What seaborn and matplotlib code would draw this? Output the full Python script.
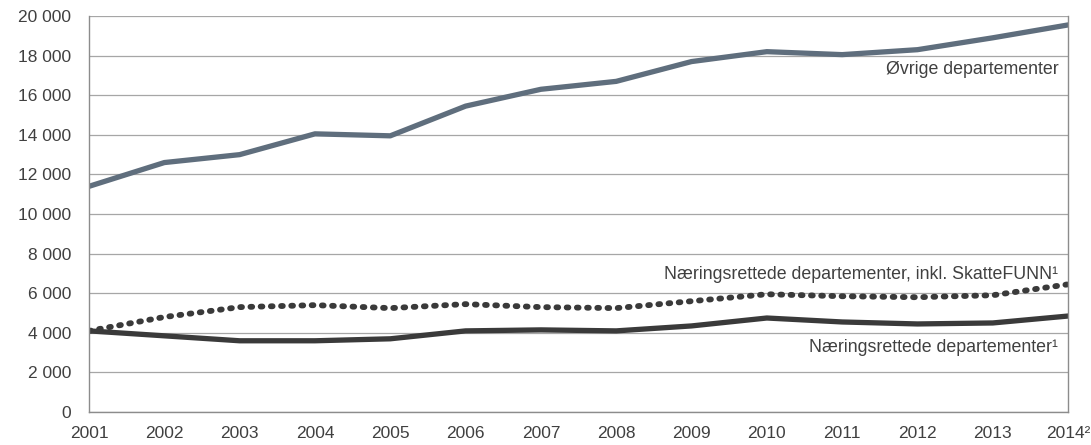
import matplotlib
matplotlib.use("Agg")
import matplotlib.pyplot as plt
import seaborn as sns
import pandas as pd

years = list(range(2001, 2015))
ovrige = [11400, 12600, 13000, 14050, 13950, 15450, 16300, 16700, 17700, 18200, 18050, 18300, 18900, 19550]
naering_skf = [4100, 4800, 5300, 5400, 5250, 5450, 5300, 5250, 5600, 5950, 5850, 5800, 5900, 6450]
naering = [4100, 3850, 3600, 3600, 3700, 4100, 4150, 4100, 4350, 4750, 4550, 4450, 4500, 4850]
x_labels = [str(y) for y in years[:-1]] + ["2014²"]

df = pd.DataFrame({"år": years, "ovrige": ovrige, "skf": naering_skf, "naering": naering})

sns.set_style("white")
plt.rcParams["font.family"] = ["Liberation Sans", "DejaVu Sans"]

fig = plt.figure(figsize=(10.91, 4.45), dpi=100)
ax = fig.add_axes([0.0816, 0.074, 0.8974, 0.89])

sns.lineplot(data=df, x="år", y="ovrige", ax=ax, color="#5f6e7d", lw=3.8, solid_capstyle="round")
sns.lineplot(data=df, x="år", y="naering", ax=ax, color="#3a3a3a", lw=3.8, solid_capstyle="round")
sns.lineplot(data=df, x="år", y="skf", ax=ax, color="#3a3a3a", lw=4.2,
             linestyle=(0, (0.3, 1.45)), dash_capstyle="round")

ax.set_xlim(2001, 2014)
ax.set_ylim(0, 20000)
ax.set_yticks(range(0, 20001, 2000))
ax.set_yticklabels([f"{v:,}".replace(",", " ") for v in range(0, 20001, 2000)])
ax.set_xticks(years)
ax.set_xticklabels(x_labels)
ax.grid(axis="y", color="#a6a6a6", lw=0.9)
ax.set_axisbelow(True)
ax.set_xlabel("")
ax.set_ylabel("")

ax.spines["top"].set_visible(False)
for side in ["left", "right", "bottom"]:
    ax.spines[side].set_color("#8c8c8c")
    ax.spines[side].set_linewidth(1.0)

ax.tick_params(axis="both", labelsize=12.5, colors="#404040", length=6, width=1.0, direction="out")
ax.tick_params(axis="y", color="#8c8c8c", length=7, pad=6)
ax.tick_params(axis="x", color="#8c8c8c", pad=4)

txt = dict(fontsize=12.8, color="#404040", ha="right", va="center", transform=ax.transAxes)
ax.text(0.99, 0.864, "Øvrige departementer", **txt)
ax.text(0.99, 0.348, "Næringsrettede departementer, inkl. SkatteFUNN¹", **txt)
ax.text(0.99, 0.164, "Næringsrettede departementer¹", **txt)

fig.savefig("out.png", dpi=100)
